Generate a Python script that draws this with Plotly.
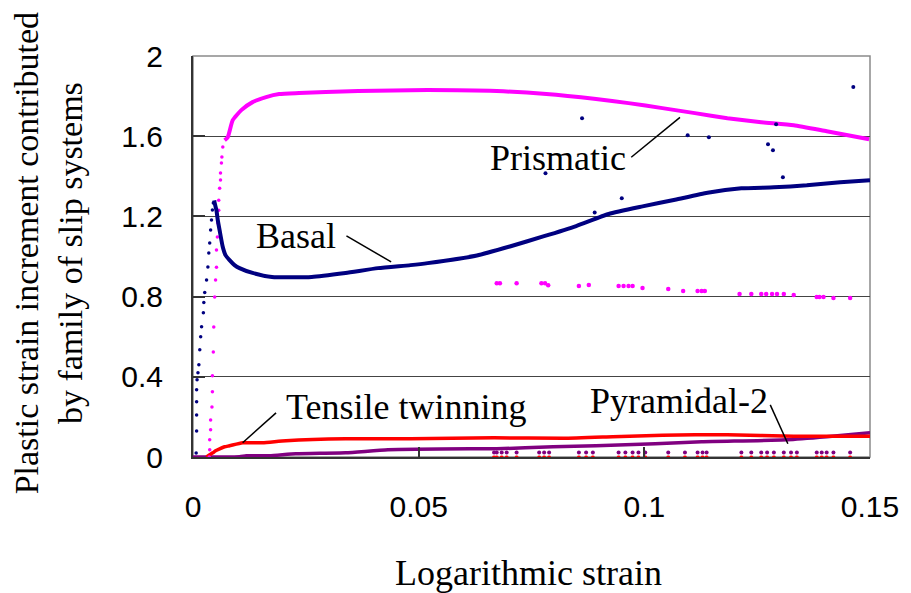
import plotly.graph_objects as go

# ---- Prismatic slip -------------------------------------------------------
prism_rise_x = [0.0036, 0.0037, 0.0037, 0.0039, 0.0039, 0.0042, 0.0043, 0.0043,
                0.0045, 0.0046, 0.0048, 0.0050, 0.0052, 0.0052, 0.0054, 0.0055,
                0.0057, 0.0057, 0.0059, 0.0061, 0.0061, 0.0063, 0.0064, 0.0066]
prism_rise_y = [0.00, 0.036, 0.086, 0.136, 0.185, 0.25, 0.325, 0.405,
                0.524, 0.649, 0.798, 0.883, 0.947, 1.032, 1.097, 1.167,
                1.231, 1.281, 1.341, 1.381, 1.416, 1.466, 1.496, 1.546]
prism_x = [0.0070, 0.0077, 0.0088, 0.0107, 0.0132, 0.0162, 0.0191, 0.0235,
           0.0294, 0.0366, 0.052, 0.0673, 0.0783, 0.0893, 0.0965, 0.104,
           0.1112, 0.1184, 0.1259, 0.1331, 0.1404, 0.1498]
prism_y = [1.58, 1.595, 1.68, 1.73, 1.77, 1.795, 1.81, 1.815,
           1.82, 1.825, 1.83, 1.825, 1.81, 1.785, 1.765, 1.74,
           1.715, 1.69, 1.67, 1.655, 1.625, 1.585]
prism_stray_x = [0.0673, 0.0680, 0.0717, 0.0772, 0.0780, 0.0787, 0.0855, 0.0877,
                 0.0943, 0.0954, 0.0965, 0.0974, 0.0996, 0.1053, 0.1086, 0.1118,
                 0.1127, 0.1134, 0.1211, 0.1237, 0.1259, 0.1270, 0.1283, 0.1294,
                 0.1309, 0.1331, 0.1382, 0.1388, 0.1397, 0.1419, 0.1456]
prism_stray_y = [0.867, 0.867, 0.867, 0.867, 0.867, 0.857, 0.853, 0.858,
                 0.853, 0.853, 0.853, 0.853, 0.843, 0.838, 0.828, 0.828,
                 0.828, 0.828, 0.813, 0.813, 0.813, 0.813, 0.813, 0.813,
                 0.813, 0.808, 0.798, 0.798, 0.798, 0.793, 0.793]

# ---- Basal slip -----------------------------------------------------------
basal_rise_x = [0.0007, 0.0008, 0.0008, 0.0008, 0.0008, 0.0009, 0.0011, 0.0013,
                0.0015, 0.0017, 0.0019, 0.0023, 0.0024, 0.0026, 0.0030, 0.0033,
                0.0035, 0.0037, 0.0039, 0.0041, 0.0043, 0.0045]
basal_rise_y = [0.02, 0.13, 0.21, 0.275, 0.335, 0.385, 0.42, 0.46,
                0.535, 0.60, 0.65, 0.72, 0.77, 0.82, 0.883, 0.948,
                1.017, 1.067, 1.132, 1.182, 1.232, 1.267]
basal_x = [0.0047, 0.0048, 0.0052, 0.0055, 0.0059, 0.0066, 0.0072, 0.0081,
           0.0092, 0.0103, 0.0132, 0.0175, 0.0263, 0.0338, 0.0410, 0.0482,
           0.0520, 0.0629, 0.0702, 0.0776, 0.0849, 0.0921, 0.0996, 0.1068,
           0.1140, 0.1215, 0.1287, 0.1360, 0.1434, 0.1500]
basal_y = [1.28, 1.267, 1.23, 1.18, 1.13, 1.047, 1.007, 0.982,
           0.957, 0.942, 0.918, 0.898, 0.898, 0.918, 0.942, 0.957,
           0.967, 1.005, 1.05, 1.10, 1.152, 1.212, 1.25, 1.283,
           1.318, 1.34, 1.345, 1.355, 1.37, 1.38]
basal_stray_x = [0.0781, 0.0862, 0.0890, 0.0950, 0.1096, 0.1143, 0.1274, 0.1285,
                 0.1292, 0.1307, 0.1463]
basal_stray_y = [1.415, 1.69, 1.22, 1.29, 1.605, 1.595, 1.56, 1.53,
                 1.66, 1.395, 1.845]

# ---- Tensile twinning -----------------------------------------------------
twin_x = [0.0030, 0.0037, 0.0044, 0.0050, 0.0059, 0.0070, 0.0081, 0.0110,
          0.0154, 0.0206, 0.0338, 0.0482, 0.0667, 0.0820, 0.0930, 0.1040,
          0.1184, 0.1331, 0.1500]
twin_y = [0.0, 0.011, 0.021, 0.031, 0.041, 0.051, 0.056, 0.071,
          0.071, 0.081, 0.091, 0.091, 0.096, 0.093, 0.101, 0.109,
          0.111, 0.103, 0.103]

# ---- Pyramidal-2 slip -----------------------------------------------------
pyr_x = [0.0, 0.0103, 0.0118, 0.0169, 0.0228, 0.0338, 0.0432, 0.0614,
         0.0673, 0.0798, 0.0893, 0.1024, 0.1127, 0.1316, 0.1404, 0.1500]
pyr_y = [0.0, 0.001, 0.006, 0.006, 0.016, 0.021, 0.036, 0.041,
         0.041, 0.051, 0.056, 0.066, 0.076, 0.086, 0.101, 0.121]

# scattered low-level increments of the two minor systems
low_x = [0.0667, 0.0673, 0.0684, 0.0695, 0.0717, 0.0767, 0.0778, 0.0789,
         0.0855, 0.0871, 0.0886, 0.0943, 0.0958, 0.0974, 0.0987, 0.1002,
         0.1053, 0.1090, 0.1118, 0.1129, 0.1138, 0.1215, 0.1237, 0.1259,
         0.1272, 0.1287, 0.1309, 0.1325, 0.1338, 0.1382, 0.1393, 0.1404,
         0.1419, 0.1456]
pyr_low_y = [0.022] * len(low_x)
twin_low_y = [-0.003] * len(low_x)

# ---- labels ---------------------------------------------------------------
x_ticks = [0, 0.05, 0.1, 0.15]
x_tick_text = ["0", "0.05", "0.1", "0.15"]
y_ticks = [0, 0.4, 0.8, 1.2, 1.6, 2.0]
y_tick_text = ["0", "0.4", "0.8", "1.2", "1.6", "2"]

labels = ["Prismatic", "Basal", "Tensile twinning", "Pyramidal-2"]
label_x = [0.0809, 0.0229, 0.0473, 0.1076]
label_y = [1.49, 1.10, 0.25, 0.277]
leader_x0 = [0.0971, 0.0340, 0.0184, 0.1279]
leader_y0 = [1.495, 1.103, 0.22, 0.26]
leader_x1 = [0.1079, 0.0439, 0.0110, 0.1318]
leader_y1 = [1.694, 0.973, 0.071, 0.066]

MAGENTA = "#FF00FF"
NAVY = "#000080"
RED = "#FF0000"
PURPLE = "#800080"

fig = go.Figure()


def dots(x, y, color, size=3.5):
    fig.add_trace(go.Scatter(x=x, y=y, mode="markers",
                             marker=dict(color=color, size=size, line=dict(width=0)),
                             showlegend=False, hoverinfo="skip"))


def curve(x, y, color, width=4):
    fig.add_trace(go.Scatter(x=x, y=y, mode="lines",
                             line=dict(color=color, width=width, shape="spline", smoothing=0.5),
                             showlegend=False, hoverinfo="skip"))


curve(pyr_x, pyr_y, PURPLE, 3.5)
dots(low_x, pyr_low_y, PURPLE, 4)
curve(twin_x, twin_y, RED, 3.5)
dots(low_x, twin_low_y, RED, 4)
dots(prism_stray_x, prism_stray_y, MAGENTA, 4.5)
dots(prism_rise_x, prism_rise_y, MAGENTA)
curve(prism_x, prism_y, MAGENTA, 4)
dots(basal_rise_x, basal_rise_y, NAVY)
curve(basal_x, basal_y, NAVY, 4)
dots(basal_stray_x, basal_stray_y, NAVY, 4)

serif = "Liberation Serif"
sans = "Liberation Sans"

shapes = [
    # light frame at top and right
    dict(type="rect", xref="paper", yref="paper", x0=0, y0=0, x1=1, y1=1,
         line=dict(color="#8a8a8a", width=1.5), layer="below"),
]
for x0, y0, x1, y1 in zip(leader_x0, leader_y0, leader_x1, leader_y1):
    shapes.append(dict(type="line", xref="x", yref="y", x0=x0, y0=y0, x1=x1, y1=y1,
                       line=dict(color="black", width=1.5)))

fig.update_layout(
    width=911, height=593,
    margin=dict(l=193, r=34, t=56, b=136),
    paper_bgcolor="white", plot_bgcolor="white",
    font=dict(family=serif, color="black"),
    shapes=shapes,
    xaxis=dict(range=[0, 0.15], tickvals=x_ticks, ticktext=x_tick_text,
               showgrid=False, zeroline=False, showline=True,
               linecolor="#333333", linewidth=2, ticks="inside", ticklen=10,
               tickcolor="#333333", tickwidth=1.5, ticklabelstandoff=22,
               tickfont=dict(family=sans, size=30, color="black")),
    yaxis=dict(range=[0, 2], tickvals=y_ticks, ticktext=y_tick_text,
               showgrid=True, gridcolor="#444444", gridwidth=1.3,
               zeroline=False, showline=True,
               linecolor="#333333", linewidth=2, ticks="inside", ticklen=12,
               tickcolor="#333333", tickwidth=1.5, ticklabelstandoff=22,
               tickfont=dict(family=sans, size=30, color="black")),
)

for t, x, y in zip(labels, label_x, label_y):
    fig.add_annotation(text=t, x=x, y=y, xref="x", yref="y", showarrow=False,
                       xanchor="center", yanchor="middle",
                       font=dict(family=serif, size=36, color="black"))
fig.add_annotation(text="Plastic strain increment contributed<br>by family of slip systems",
                   x=-0.2135, y=0.509, xref="paper", yref="paper", showarrow=False,
                   textangle=-90, xanchor="center", yanchor="middle",
                   font=dict(family=serif, size=34, color="black"))
fig.add_annotation(text="Logarithmic strain", x=0.496, y=-0.289,
                   xref="paper", yref="paper", showarrow=False,
                   xanchor="center", yanchor="middle",
                   font=dict(family=serif, size=36, color="black"))

fig.write_html("out.html")
